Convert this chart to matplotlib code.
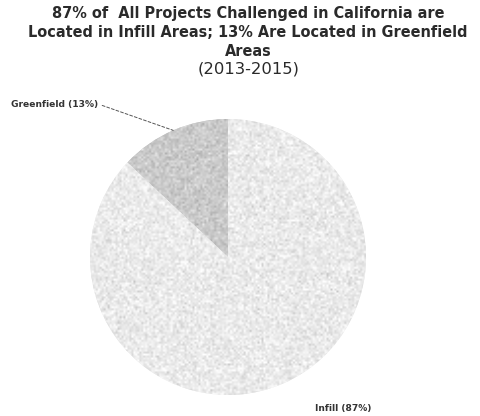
import numpy as np
import matplotlib
matplotlib.use("Agg")
import matplotlib.pyplot as plt

# Share of challenged projects by location type
categories = ["Greenfield", "Infill"]
shares = [13, 87]
colors = ["#cacaca", "#eaeaea"]

title_lines = ["87% of  All Projects Challenged in California are",
               "Located in Infill Areas; 13% Are Located in Greenfield",
               "Areas"]
title_years = "(2013-2015)"

W, H = 480, 416
fig = plt.figure(figsize=(W / 100, H / 100), dpi=100)
plt.rcParams["font.family"] = ["DejaVu Sans"]

# Pie axes: centre at (228, 257) px from top-left, radius 138 px
cx, cy, R = 228, 257, 138
ax = fig.add_axes([(cx - R) / W, (H - cy - R) / H, 2 * R / W, 2 * R / H])
wedges, _ = ax.pie(shares, colors=colors, startangle=90, counterclock=True,
                   radius=1.0, wedgeprops=dict(linewidth=0))

# Grain over each wedge
rng = np.random.default_rng(3)
for w, c in zip(wedges, colors):
    base = matplotlib.colors.to_rgb(c)[0]
    grain = np.clip(base + rng.normal(0, 0.045, (140, 140)), 0, 1)
    im = ax.imshow(grain, cmap="gray", vmin=0, vmax=1, extent=(-1, 1, -1, 1),
                   interpolation="bilinear", zorder=2)
    im.set_clip_path(w)
ax.set_xlim(-1, 1)
ax.set_ylim(-1, 1)
ax.set_aspect("equal")
ax.axis("off")

# Title, one baseline per line
tx = 248 / W
baselines = [18, 37, 56]
for line, yb in zip(title_lines, baselines):
    fig.text(tx, 1 - yb / H, line, ha="center", va="baseline",
             fontsize=10.45, fontweight="bold", color="#2a2a2a")
fig.text(249 / W, 1 - 74 / H, title_years, ha="center", va="baseline",
         fontsize=11.8, color="#2a2a2a")

# Slice labels with leader line for the small slice
theta = np.deg2rad(90 + shares[0] / 100 * 360 / 2)
edge = (np.cos(theta), np.sin(theta))
ax.annotate(f"{categories[0]} ({shares[0]}%)", xy=edge, xycoords="data",
            xytext=(11 / W, 1 - 104 / H), textcoords="figure fraction",
            ha="left", va="center", fontsize=6.6, fontweight="bold",
            color="#333333",
            arrowprops=dict(arrowstyle="-", linestyle=(0, (3, 2)), lw=0.7,
                            color="#555555", shrinkA=1, shrinkB=0,
                            relpos=(1.0, 0.5)))
fig.text(315 / W, 1 - 409 / H, f"{categories[1]} ({shares[1]}%)",
         ha="left", va="center", fontsize=6.6, fontweight="bold",
         color="#333333")

fig.savefig("out.png", dpi=100)
